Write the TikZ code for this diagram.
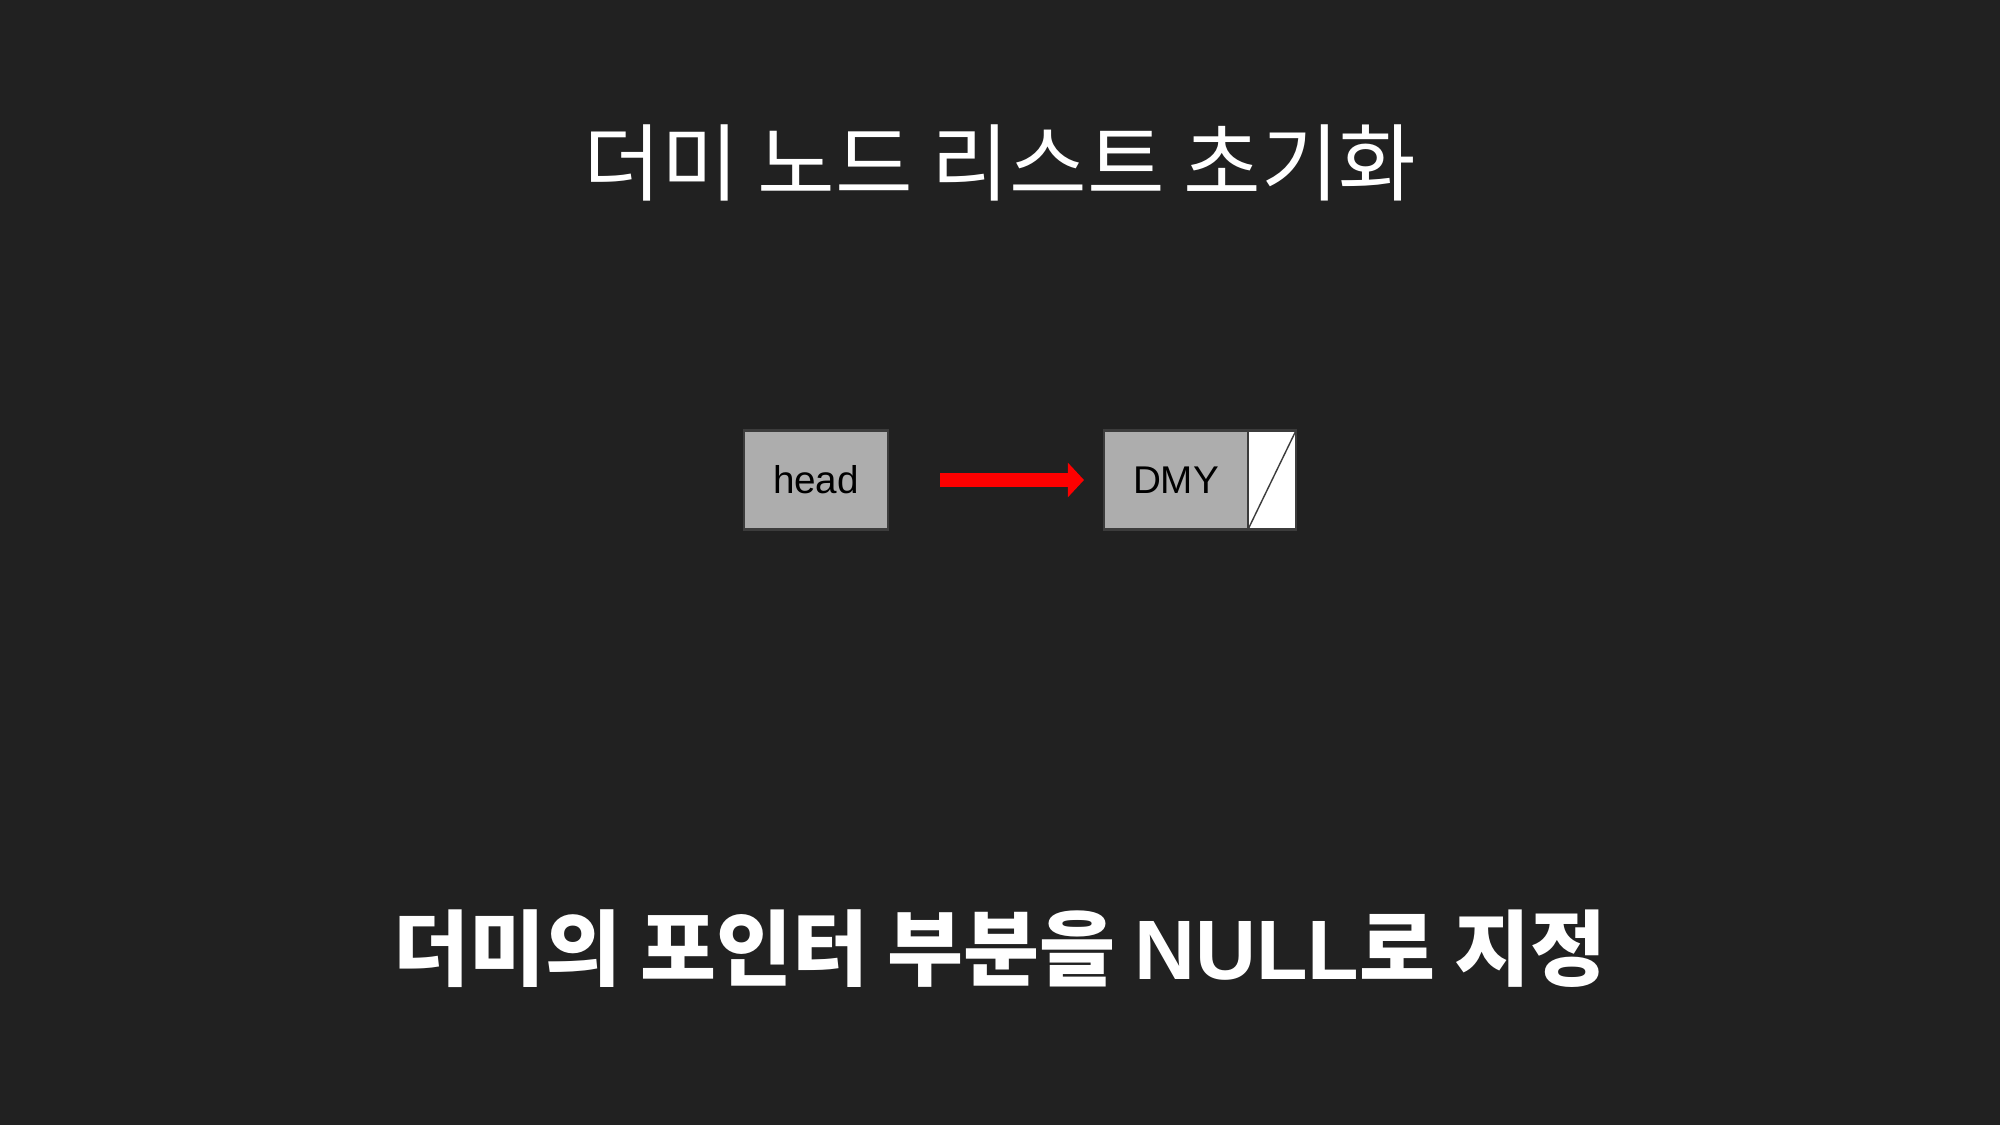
\documentclass[tikz,border=0pt]{standalone}
\usepackage{fontspec}
\setmainfont{Liberation Sans}
\newfontfamily\kr{Noto Sans CJK KR}
\usepackage{tikz}
\usetikzlibrary{arrows.meta,positioning,calc}
\definecolor{bg}{HTML}{212121}
\definecolor{cellgray}{HTML}{ADADAD}
\definecolor{edge}{HTML}{3C3C3C}
\tikzstyle{cell} = [draw=edge,line width=0.8pt,fill=cellgray,outer sep=0pt,minimum width=1.44cm,minimum height=0.99cm,inner sep=0pt,font=\fontsize{11}{13}\selectfont]
\tikzstyle{nullcell} = [draw=edge,line width=0.8pt,fill=white,outer sep=0pt,minimum width=0.48cm,minimum height=0.99cm,inner sep=0pt]
\tikzstyle{ptr} = [red,line width=4.2pt,-{Triangle[length=4.6pt,width=9.6pt]}]
\tikzset{>=latex}

\begin{document}
\begin{tikzpicture}
    \fill[bg] (0,0) rectangle (20,11.25);
    \useasboundingbox (0,0) rectangle (20,11.25);
    \node [white,font=\kr\fontsize{24}{28}\selectfont] (title) at (10,9.62) {더미 노드 리스트 초기화};
    \node [cell] (head) at (8.16,6.45) {head};
    \node [cell,right=2.16cm of head] (dmy) {DMY};
    \node [nullcell,right=0pt of dmy] (null) {};
    \draw [edge] (null.south west) -- (null.north east);
    \draw [ptr] ([xshift=0.52cm]head.east) -- ([xshift=-0.2cm]dmy.west);
    \node [white,font=\kr\bfseries\fontsize{23.5}{28}\selectfont] (note) at (10,1.76) {더미의 포인터 부분을 {\normalfont\bfseries\fontsize{24}{28}\selectfont NULL}로 지정};
\end{tikzpicture}
\end{document}
